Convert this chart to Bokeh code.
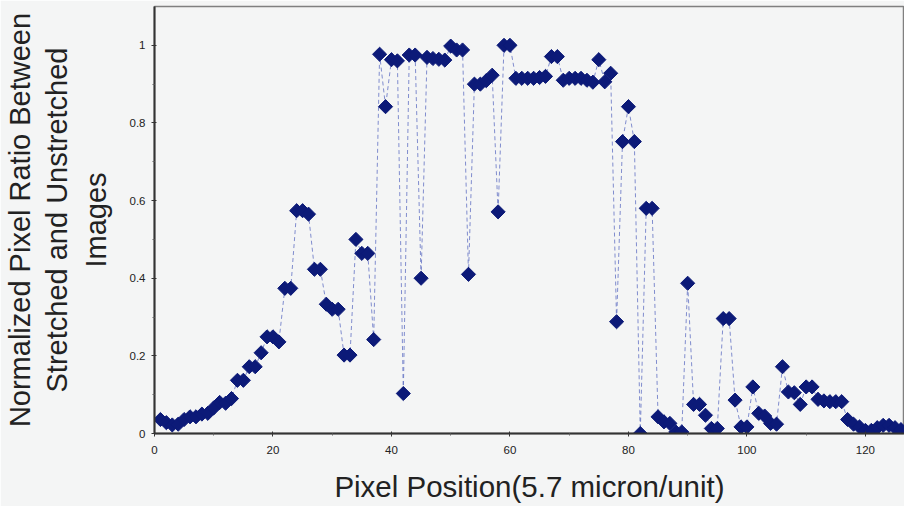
import math
from bokeh.plotting import figure
from bokeh.models import Range1d, FixedTicker, LinearAxis
from bokeh.embed import file_html
from bokeh.resources import INLINE

# ---- data ----
pixel_position = list(range(1, 127))
pixel_ratio = [
    0.036, 0.028, 0.022, 0.024, 0.036, 0.043, 0.043, 0.050, 0.052, 0.066,
    0.080, 0.078, 0.090, 0.137, 0.137, 0.172, 0.172, 0.208, 0.249, 0.249,
    0.236, 0.374, 0.374, 0.574, 0.574, 0.565, 0.423, 0.423, 0.333, 0.320,
    0.320, 0.202, 0.202, 0.500, 0.464, 0.464, 0.242, 0.977, 0.842, 0.963,
    0.960, 0.103, 0.975, 0.975, 0.400, 0.969, 0.966, 0.964, 0.962, 0.998,
    0.988, 0.988, 0.410, 0.900, 0.900, 0.909, 0.923, 0.571, 1.000, 1.000,
    0.915, 0.915, 0.915, 0.915, 0.917, 0.920, 0.971, 0.971, 0.910, 0.915,
    0.915, 0.915, 0.910, 0.905, 0.963, 0.906, 0.928, 0.288, 0.752, 0.842,
    0.752, 0.000, 0.580, 0.580, 0.043, 0.030, 0.026, 0.004, 0.004, 0.387,
    0.075, 0.075, 0.047, 0.013, 0.013, 0.296, 0.296, 0.086, 0.017, 0.017,
    0.120, 0.052, 0.045, 0.026, 0.024, 0.172, 0.107, 0.105, 0.075, 0.120,
    0.120, 0.088, 0.084, 0.082, 0.082, 0.082, 0.036, 0.024, 0.017, 0.008,
    0.008, 0.015, 0.021, 0.021, 0.015, 0.010,
]
x_ticks = [0, 20, 40, 60, 80, 100, 120]
y_ticks = [0, 0.2, 0.4, 0.6, 0.8, 1]
y_tick_labels = {0: "0", 0.2: "0.2", 0.4: "0.4", 0.6: "0.6", 0.8: "0.8", 1: "1"}
x_title = "Pixel Position(5.7 micron/unit)"
y_title_lines = ["Normalized Pixel Ratio Between", "Stretched and Unstretched", "Images"]

BG = "#f4f5f5"
FONT = "Liberation Sans"
TITLE_SIZE = "29px"
TITLE_COLOR = "#222222"

p = figure(width=904, height=506, output_backend="svg", toolbar_location=None,
           x_range=Range1d(0, 126.6), y_range=Range1d(0, 1.1),
           min_border_left=154, min_border_right=0, min_border_top=6,
           min_border_bottom=73)
p.background_fill_color = BG
p.border_fill_color = BG
p.outline_line_color = "#808080"
p.outline_line_width = 1.5
p.grid.visible = False

p.line(pixel_position, pixel_ratio, line_color="#5a6ac0", line_width=1,
       line_dash="4 3", line_alpha=0.75)
p.scatter(pixel_position, pixel_ratio, marker="square", size=10, angle=math.pi / 4,
          fill_color="#0c1a78", line_color="#0c1a78")

xa = p.xaxis[0]
xa.ticker = FixedTicker(ticks=x_ticks, minor_ticks=[10, 30, 50, 70, 90, 110])
xa.axis_line_color = "#333333"
xa.axis_line_width = 2
xa.major_tick_line_color = "#333333"
xa.major_tick_out = 3
xa.major_tick_in = 2
xa.minor_tick_line_color = "#666666"
xa.minor_tick_out = 2
xa.minor_tick_in = 0
xa.major_label_text_font = FONT
xa.major_label_text_font_size = "11.5px"
xa.major_label_text_color = "#222222"
xa.major_label_standoff = 9
xa.axis_label = x_title
xa.axis_label_text_font = FONT
xa.axis_label_text_font_size = "29.5px"
xa.axis_label_text_font_style = "normal"
xa.axis_label_text_color = TITLE_COLOR
xa.axis_label_standoff = 13

ya = p.yaxis[0]
ya.ticker = FixedTicker(ticks=y_ticks, minor_ticks=[0.1, 0.3, 0.5, 0.7, 0.9])
ya.major_label_overrides = y_tick_labels
ya.axis_line_color = "#333333"
ya.axis_line_width = 2
ya.major_tick_line_color = "#333333"
ya.major_tick_out = 3
ya.major_tick_in = 2
ya.minor_tick_line_color = "#666666"
ya.minor_tick_out = 2
ya.minor_tick_in = 0
ya.major_label_text_font = FONT
ya.major_label_text_font_size = "11.5px"
ya.major_label_text_color = "#222222"
ya.major_label_standoff = 6
ya.axis_label = y_title_lines[2]
ya.axis_label_text_font = FONT
ya.axis_label_text_font_size = TITLE_SIZE
ya.axis_label_text_font_style = "normal"
ya.axis_label_text_color = TITLE_COLOR
ya.axis_label_standoff = 15

# outer title lines as extra label-only axes stacked further left
for line, standoff in ((y_title_lines[1], 4), (y_title_lines[0], 2)):
    ax = LinearAxis(ticker=FixedTicker(ticks=[]), axis_label=line,
                    axis_line_color=None, major_tick_line_color=None,
                    minor_tick_line_color=None, major_tick_out=0, major_tick_in=0,
                    minor_tick_out=0, minor_tick_in=0, major_label_standoff=0,
                    major_label_text_font_size="0px",
                    axis_label_text_font=FONT, axis_label_text_font_size=TITLE_SIZE,
                    axis_label_text_font_style="normal",
                    axis_label_text_color=TITLE_COLOR,
                    axis_label_standoff=standoff)
    p.add_layout(ax, "left")

open("out.html", "w").write(file_html(p, INLINE))
